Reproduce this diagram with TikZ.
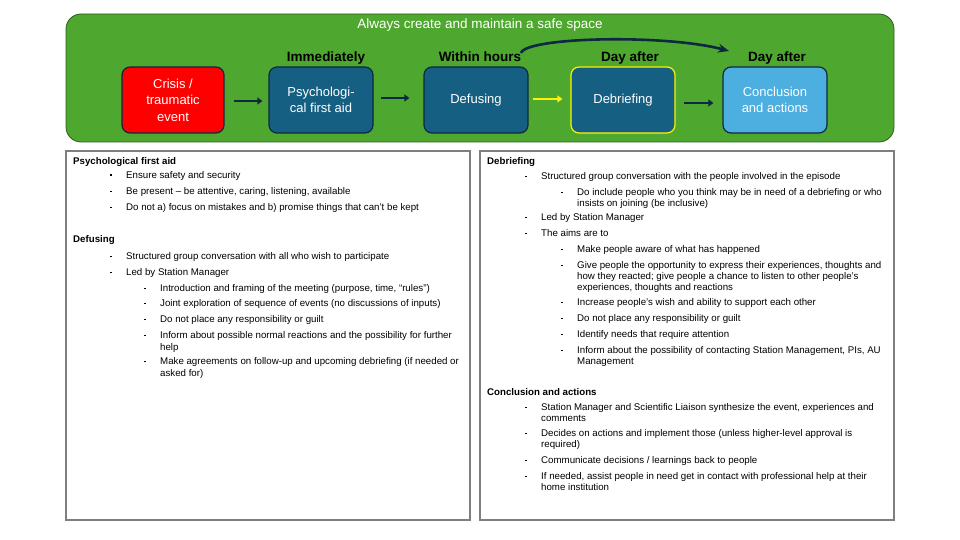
\documentclass[tikz,border=0pt]{standalone}
\usepackage{fontspec}
\setmainfont{Liberation Sans}
\usetikzlibrary{arrows.meta}
\definecolor{navy}{HTML}{0E2841}
\definecolor{bggreen}{HTML}{4EA72E}
\definecolor{edgegreen}{HTML}{2E5E1E}
\definecolor{darkblue}{HTML}{156082}
\definecolor{lightblue}{HTML}{4DAFE0}
\definecolor{panelgray}{HTML}{7F7F7F}
\newcommand\bodyfont{\fontsize{9.7}{11}\selectfont}
\newcommand\mybul{\llap{\rule[2.3pt]{1.7pt}{1.7pt}\hspace{14.5pt}}}
\tikzset{
  stage/.style={draw=navy, line width=1.2pt, rounded corners=8pt, minimum width=104pt, minimum height=66pt,
    text=white, align=center, font=\fontsize{13}{16.5}\selectfont, inner sep=0pt},
  stagelabel/.style={font=\fontsize{13.5}{15}\selectfont\bfseries, text=black, inner sep=0pt, anchor=base},
  flow/.style={draw=navy, line width=2.6pt, -{Triangle[length=5pt,width=7pt]}},
  yflow/.style={draw=yellow, line width=2.6pt, -{Triangle[length=5pt,width=7pt]}},
  panel/.style={draw=panelgray, line width=1.2pt, fill=white, inner sep=0pt},
  headtxt/.style={font=\bodyfont\bfseries, anchor=base west, inner sep=0pt},
  bodytxt/.style={font=\bodyfont, anchor=base west, inner sep=0pt},
}
\begin{document}
\begin{tikzpicture}[x=1pt,y=-1pt]
\useasboundingbox (0,0) rectangle (960,540);
\fill[white] (0,0) rectangle (960,540);
% banner
\node[draw=edgegreen, line width=0.8pt, fill=bggreen, rounded corners=15pt, minimum width=828pt, minimum height=128pt, inner sep=0pt] (banner) at (480,78) {};
\node[text=white, font=\fontsize{13.5}{15}\selectfont, inner sep=0pt] (title) at (480,25) {Always create and maintain a safe space};
% stages
\node[stage, fill=red, minimum width=102pt] (crisis) at (173,100) {Crisis /\\traumatic\\event};
\node[stage, fill=darkblue] (pfa) at (321,100) {Psychologi-\\cal first aid};
\node[stage, fill=darkblue] (def) at (476,100) {Defusing};
\node[stage, fill=darkblue, draw=yellow] (deb) at (623,100) {Debriefing};
\node[stage, fill=lightblue] (con) at (775,100) {Conclusion\\and actions};
% labels
\node[stagelabel] (lab1) at (326,61.5) {Immediately};
\node[stagelabel] (lab2) at (480,61.5) {Within hours};
\node[stagelabel] (lab3) at (630,61.5) {Day after};
\node[stagelabel] (lab4) at (777,61.5) {Day after};
% arrows
\draw[flow, shorten <=9pt, shorten >=6pt] ([yshift=-1pt]crisis.east) -- ([yshift=-1pt]pfa.west);
\draw[flow, shorten <=7pt, shorten >=14pt] ([yshift=2pt]pfa.east) -- ([yshift=2pt]def.west);
\draw[yflow, shorten <=4pt, shorten >=8pt] ([yshift=1pt]def.east) -- ([yshift=1pt]deb.west);
\draw[flow, shorten <=8pt, shorten >=9pt] ([yshift=-3pt]deb.east) -- ([yshift=-3pt]con.west);
\coordinate (cs) at (521,53);
\coordinate (ce) at (729,51);
\draw[draw=navy, line width=2.6pt, -{Stealth[length=11pt,width=9pt]}] (cs) .. controls (526,37) and (665,34) .. (ce);
% panels
\node[panel, minimum width=404pt, minimum height=369pt] (leftpanel) at (268,335.5) {};
\node[panel, minimum width=414pt, minimum height=369pt] (rightpanel) at (687,335.5) {};
% left text
\node[headtxt] (p1) at (73,164.5) {Psychological first aid};
\node[bodytxt] (p2) at (126,178.5) {\mybul Ensure safety and security};
\node[bodytxt] (p3) at (126,194.5) {\mybul Be present – be attentive, caring, listening, available};
\node[bodytxt] (p4) at (126,210.5) {\mybul Do not a) focus on mistakes and b) promise things that can’t be kept};
\node[headtxt] (p5) at (73,242.5) {Defusing};
\node[bodytxt] (p6) at (126,259.5) {\mybul Structured group conversation with all who wish to participate};
\node[bodytxt] (p7) at (126,275.5) {\mybul Led by Station Manager};
\node[bodytxt] (p8) at (160,291.5) {\mybul Introduction and framing of the meeting (purpose, time, “rules”)};
\node[bodytxt] (p9) at (160,306.5) {\mybul Joint exploration of sequence of events (no discussions of inputs)};
\node[bodytxt] (p10) at (160,322.5) {\mybul Do not place any responsibility or guilt};
\node[bodytxt] (p11) at (160,338.5) {\mybul Inform about possible normal reactions and the possibility for further};
\node[bodytxt] (p12) at (160,350) {help};
\node[bodytxt] (p13) at (160,364.5) {\mybul Make agreements on follow-up and upcoming debriefing (if needed or};
\node[bodytxt] (p14) at (160,376) {asked for)};
% right text
\node[headtxt] (q1) at (487,164.5) {Debriefing};
\node[bodytxt] (q2) at (541,179.5) {\mybul Structured group conversation with the people involved in the episode};
\node[bodytxt] (q3) at (577,195.5) {\mybul Do include people who you think may be in need of a debriefing or who};
\node[bodytxt] (q4) at (577,206) {insists on joining (be inclusive)};
\node[bodytxt] (q5) at (541,220.5) {\mybul Led by Station Manager};
\node[bodytxt] (q6) at (541,236.5) {\mybul The aims are to};
\node[bodytxt] (q7) at (577,252.5) {\mybul Make people aware of what has happened};
\node[bodytxt] (q8) at (577,268.5) {\mybul Give people the opportunity to express their experiences, thoughts and};
\node[bodytxt] (q9) at (577,279.5) {how they reacted; give people a chance to listen to other people’s};
\node[bodytxt] (q10) at (577,290.5) {experiences, thoughts and reactions};
\node[bodytxt] (q11) at (577,305.5) {\mybul Increase people’s wish and ability to support each other};
\node[bodytxt] (q12) at (577,321.5) {\mybul Do not place any responsibility or guilt};
\node[bodytxt] (q13) at (577,337.5) {\mybul Identify needs that require attention};
\node[bodytxt] (q14) at (577,353.5) {\mybul Inform about the possibility of contacting Station Management, PIs, AU};
\node[bodytxt] (q15) at (577,364.5) {Management};
\node[headtxt] (q16) at (487,395.5) {Conclusion and actions};
\node[bodytxt] (q17) at (541,410.5) {\mybul Station Manager and Scientific Liaison synthesize the event, experiences and};
\node[bodytxt] (q18) at (541,421.5) {comments};
\node[bodytxt] (q19) at (541,436.5) {\mybul Decides on actions and implement those (unless higher-level approval is};
\node[bodytxt] (q20) at (541,447.5) {required)};
\node[bodytxt] (q21) at (541,463.5) {\mybul Communicate decisions / learnings back to people};
\node[bodytxt] (q22) at (541,479.5) {\mybul If needed, assist people in need get in contact with professional help at their};
\node[bodytxt] (q23) at (541,490.5) {home institution};
\end{tikzpicture}
\end{document}
